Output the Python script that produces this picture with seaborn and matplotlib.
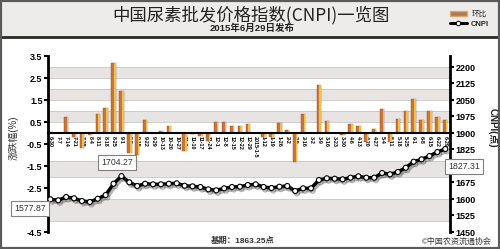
import numpy as np
import matplotlib
matplotlib.use("Agg")
import matplotlib.pyplot as plt
import matplotlib.patheffects as pe
from matplotlib.patches import Rectangle, Patch
from matplotlib.lines import Line2D
import seaborn as sns

dates = ["6-30", "7-7", "7-14", "7-21", "7-28", "8-4", "8-11", "8-18", "8-25", "9-1",
         "9-8", "9-15", "9-22", "9-29", "10-13", "10-20", "10-27", "11-3", "11-10", "11-17",
         "11-24", "12-1", "12-8", "12-15", "12-22", "12-29", "2015-1-5", "1-12", "1-19", "1-26",
         "2-2", "2-9", "2-16", "3-2", "3-9", "3-16", "3-23", "3-30", "4-6", "4-13",
         "4-20", "4-27", "5-4", "5-11", "5-18", "5-25", "6-1", "6-8", "6-15", "6-22", "6-29"]

change_pct = [0.03, 0.02, 0.75, -0.2, -0.7, -0.1, 0.85, 1.15, 3.2, 1.9,
              -0.9, -1.0, 0.6, 0.02, 0.1, 0.3, 0.02, -0.8, -0.05, -0.15,
              -0.35, 0.5, 0.5, 0.3, 0.3, 0.4, 0.0, -0.2, -0.2, 0.45,
              0.15, -1.3, 0.85, 0.0, 2.2, 0.55, 0.0, -0.1, 0.4, 0.3,
              -0.4, 0.2, 1.1, -0.4, 0.65, 1.0, 1.55, 0.6, 1.0, 0.75, 0.6]

cnpi = [1598.6, 1594.1, 1609.1, 1603.2, 1590.9, 1586.4, 1601.3, 1618.2, 1669.5, 1704.27,
        1675.9, 1659.1, 1669.5, 1666.8, 1666.8, 1669.5, 1671.3, 1660.4, 1657.7, 1654.5,
        1644.1, 1639.5, 1648.6, 1654.5, 1655.9, 1663.6, 1666.8, 1654.5, 1650.0, 1655.9,
        1659.1, 1636.4, 1648.6, 1648.6, 1686.3, 1694.1, 1692.3, 1689.5, 1696.8, 1703.2,
        1696.8, 1696.8, 1718.2, 1712.3, 1722.7, 1742.2, 1769.5, 1780.4, 1795.4, 1813.6, 1827.31]

left_ticks = [3.5, 2.5, 1.5, 0.5, -0.5, -1.5, -2.5, -3.5, -4.5]
right_ticks = [1450, 1525, 1600, 1675, 1750, 1825, 1900, 1975, 2050, 2125, 2200]

callout_idx = [0, 9, 50]
callout_text = ["1577.87", "1704.27", "1827.31"]

title = "中国尿素批发价格指数(CNPI)一览图"
subtitle = "2015年6月29日发布"
legend_labels = ["环比", "CNPI"]
left_label = "涨跌幅(%)"
right_label = "CNPI(点)"
base_text = "基期：1863.25点"
credit_text = "©中国农资流通协会"

sns.set_theme(style="white")
plt.rcParams["font.family"] = ["Liberation Sans", "Noto Sans CJK SC", "DejaVu Sans"]
plt.rcParams["axes.unicode_minus"] = False

W, H = 500, 249
def fx(p): return p / W
def fy(p): return 1 - p / H

fig = plt.figure(figsize=(5, 2.49), dpi=100)
fig.patch.set_facecolor("white")

# header
fig.patches.append(Rectangle((0, fy(37)), 1, 1 - fy(37), transform=fig.transFigure,
                             facecolor="#eeecea", edgecolor="none", zorder=0))
fig.add_artist(Line2D([0, 1], [fy(37.5)] * 2, color="#2a2a2a", lw=2))
fig.patches.append(Rectangle((0, 0), 1, 1, transform=fig.transFigure, fill=False,
                             edgecolor="#5a5a5a", lw=3, zorder=10))

ax = fig.add_axes([fx(48), fy(232), fx(450) - fx(48), fy(56) - fy(232)])
ax.set_facecolor("white")

# background bands
bands = [(2.5, 3.0), (1.5, 2.0), (0.5, 1.0), (-2.0, -1.25), (-4.0, -3.0)]
for lo, hi in bands:
    ax.axhspan(lo, hi, facecolor="#e8e4e4", edgecolor="none", zorder=0)
for lvl in [3.0, 2.5, 2.0, 1.5, 1.0, 0.5, -1.25, -2.0, -3.0, -4.0]:
    ax.axhline(lvl, color="#c9c5c5", lw=0.6, zorder=0.5)

sns.barplot(x=dates, y=change_pct, order=dates, ax=ax, color="#c8743a",
            width=0.55, saturation=1, edgecolor="#9a4e22", linewidth=0.3, zorder=2)
for p in list(ax.patches):
    if isinstance(p, Rectangle) and p.get_width() < 1:
        x, y, w, h = p.get_x(), p.get_y(), p.get_width(), p.get_height()
        ax.add_patch(Rectangle((x + w * 0.62, y), w * 0.38, h, facecolor="#efc04c",
                               edgecolor="none", zorder=2.1))

ax.set_ylim(-4.5, 3.5)
ax.set_yticks(left_ticks)
ax.set_yticklabels([f"{t:.1f}" for t in left_ticks], fontsize=6.5, fontweight="bold")
ax.tick_params(axis="y", direction="out", length=3, width=1.5, pad=1, colors="black")
ax.spines["bottom"].set_position(("data", 0))
ax.spines["bottom"].set_linewidth(1.5)
ax.spines["bottom"].set_color("black")
ax.spines["left"].set_linewidth(2)
ax.spines["left"].set_color("black")
ax.spines["top"].set_visible(False)
ax.spines["right"].set_visible(False)
ax.set_xticks(range(len(dates)))
ax.set_xticklabels(dates, rotation=270, fontsize=3.9, fontweight="bold")
ax.tick_params(axis="x", direction="inout", length=2.5, width=0.8, pad=1, colors="black")
ax.set_xlabel("")
ax.set_ylabel("")

ax2 = ax.twinx()
sns.lineplot(x=np.arange(len(cnpi)), y=cnpi, ax=ax2, color="black", lw=2.5,
             marker="o", markersize=3.6, markerfacecolor="white",
             markeredgecolor="black", markeredgewidth=0.8, zorder=5,
             path_effects=[pe.SimpleLineShadow(offset=(1.2, -1.8), shadow_color="#555555", alpha=0.45),
                           pe.Normal()])
ax2.set_ylim(1450, 2250)
ax2.set_yticks(right_ticks)
ax2.set_yticklabels([str(t) for t in right_ticks], fontsize=6.5, fontweight="bold")
ax2.tick_params(axis="y", direction="out", length=3, width=1.5, pad=1, colors="black")
for s in ["left", "top", "bottom"]:
    ax2.spines[s].set_visible(False)
ax2.spines["right"].set_linewidth(2)
ax2.spines["right"].set_color("black")
ax2.set_xlabel("")
ax2.set_ylabel("")
ax.set_xlim(-0.3, len(dates) - 0.4)

offsets = [(-14.5, -6.5), (-3, 10), (13.5, -12.5)]
for k, (i, t) in enumerate(zip(callout_idx, callout_text)):
    ax2.annotate(t, xy=(i, cnpi[i]), xytext=offsets[k], textcoords="offset points",
                 ha="center", va="center", fontsize=6.3, color="#333333",
                 bbox=dict(boxstyle="square,pad=0.35", fc="white", ec="#808080", lw=0.8),
                 zorder=20, annotation_clip=False)

# texts
fig.text(fx(251), fy(15.5), title, ha="center", va="center", fontsize=12.5,
         family=["Noto Sans CJK SC", "DejaVu Sans"], color="#222222")
fig.text(fx(252), fy(28.5), subtitle, ha="center", va="center", fontsize=6.8,
         fontweight="bold", color="#222222")
fig.text(fx(14), fy(138), left_label, rotation=90, ha="center", va="center", fontsize=7,
         color="#333333")
fig.text(fx(493), fy(128), right_label, rotation=270, ha="center", va="center", fontsize=7,
         fontweight="bold", color="#222222")
fig.text(fx(243), fy(240.5), base_text, ha="center", va="center", fontsize=6,
         fontweight="bold", color="#333333")
fig.text(fx(492), fy(241.5), credit_text, ha="right", va="center", fontsize=5.8, color="#333333")

handles = [Patch(facecolor="#b07a4e", edgecolor="#d8a870"),
           Line2D([], [], color="black", lw=2.2, marker="o", markersize=3.2,
                  markerfacecolor="white", markeredgecolor="black", markeredgewidth=0.8)]
leg = fig.legend(handles, legend_labels, loc="center left", bbox_to_anchor=(fx(446), fy(19.5)),
                 frameon=False, fontsize=5.5, handlelength=2.2, handleheight=0.6,
                 labelspacing=0.35, handletextpad=0.6, borderpad=0)
leg.get_texts()[1].set_fontweight("bold")

fig.savefig("out.png", dpi=100, facecolor="white")
